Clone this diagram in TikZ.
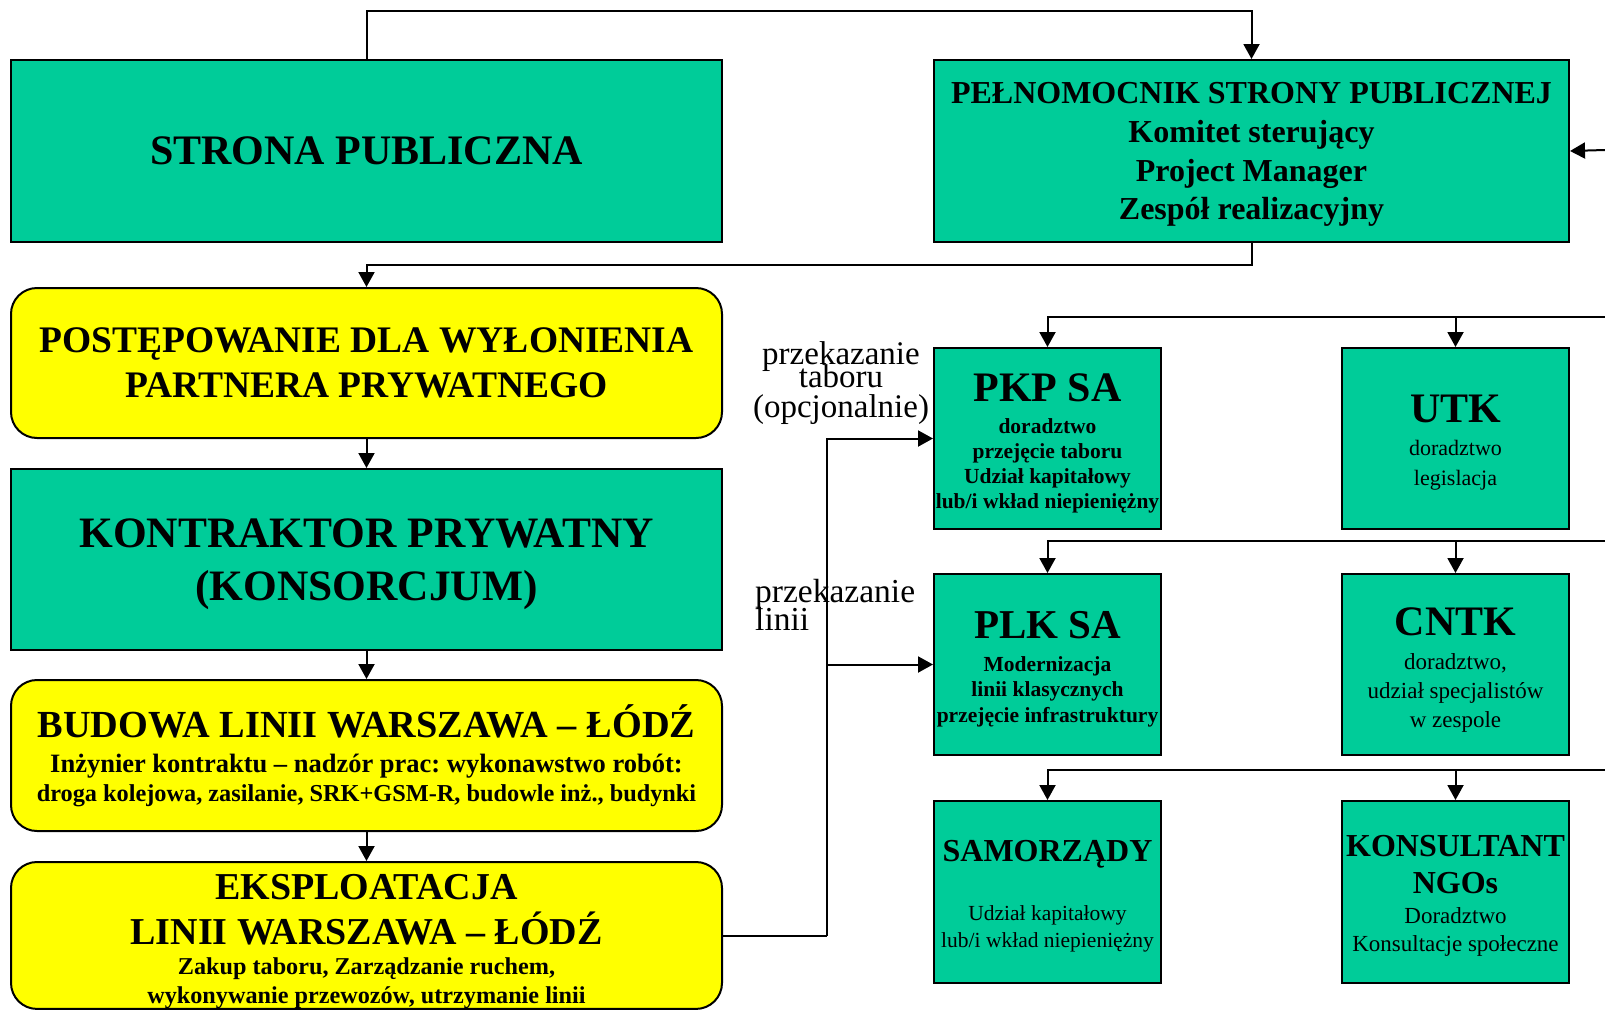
\documentclass[tikz,border=0pt]{standalone}
\usepackage{fontspec}
\setmainfont{Liberation Serif}
\usepackage{tikz}
\usetikzlibrary{arrows.meta,positioning}
\definecolor{zielen}{HTML}{00CC99}
\definecolor{zolc}{HTML}{FFFF00}
\newcommand{\fs}[2]{\fontsize{#1pt}{#2pt}\selectfont}
\newcommand{\gora}[1]{\rule{0pt}{#1pt}}
\lineskiplimit=-100pt
\frenchspacing

\begin{document}
\begin{tikzpicture}[
  x=1pt, y=-1pt,
  zbox/.style={draw, line width=2pt, fill=zielen, align=center, inner sep=0pt,
               anchor=north west, minimum width=711pt},
  ybox/.style={zbox, fill=zolc, rounded corners=26pt},
  mbox/.style={zbox, minimum width=227pt, minimum height=181pt},
  arr/.style={-{Triangle[length=15pt,width=16pt]}, line width=2pt},
  lin/.style={line width=2pt},
  etyk/.style={align=center, inner sep=0pt, font=\fs{33}{23.5}}
]
\path[use as bounding box, fill=white] (0,0) rectangle (1605,1009);

% lewa kolumna
\node[zbox, minimum height=182pt, font=\fs{42}{50}\bfseries] (strona) at (10,59) {STRONA PUBLICZNA};
\node[ybox, minimum height=150pt, font=\fs{37.5}{45}\bfseries] (postep) at (10,287)
  {POSTĘPOWANIE DLA WYŁONIENIA\\PARTNERA PRYWATNEGO};
\node[zbox, minimum height=181pt, font=\fs{43.4}{52.5}\bfseries] (kontr) at (10,468)
  {\gora{38.7}KONTRAKTOR PRYWATNY\\(KONSORCJUM)};
\node[ybox, minimum height=151pt, font=\fs{24.3}{29.5}\bfseries] (budowa) at (10,679)
  {{\fs{38.3}{29}BUDOWA LINII WARSZAWA – ŁÓDŹ}\\[5.5pt]
   {\fs{26.5}{29}Inżynier kontraktu – nadzór prac: wykonawstwo robót:}\\
   droga kolejowa, zasilanie, SRK+GSM-R, budowle inż., budynki};
\node[ybox, minimum height=146pt, font=\fs{24.2}{29}\bfseries] (eksp) at (10,861)
  {{\fs{38}{29}\gora{37.2}EKSPLOATACJA}\\[16pt]{\fs{38}{29}LINII WARSZAWA – ŁÓDŹ}\\[1.5pt]
   Zakup taboru, Zarządzanie ruchem,\\wykonywanie przewozów, utrzymanie linii};

% prawa strona
\node[zbox, minimum width=635pt, minimum height=182pt, font=\fs{32}{38.7}\bfseries] (pelnom) at (933,59)
  {\gora{28.4}PEŁNOMOCNIK STRONY PUBLICZNEJ\\Komitet sterujący\\Project Manager\\Zespół realizacyjny};
\node[mbox, font=\fs{21.5}{25}\bfseries] (pkp) at (933,347)
  {{\fs{42}{25}\gora{37.8}PKP SA}\\[7pt]doradztwo\\przejęcie  taboru\\Udział kapitałowy\\lub/i wkład niepieniężny};
\node[mbox, font=\fs{22}{30}] (utk) at (1341,347)
  {{\fs{42}{30}\bfseries\gora{35.8}UTK}\\[3pt]doradztwo\\legislacja};
\node[mbox, font=\fs{21.5}{25.5}\bfseries] (plk) at (933,573)
  {{\fs{41}{25}\gora{37.1}PLK SA}\\[7pt]Modernizacja\\linii klasycznych\\przejęcie infrastruktury};
\node[mbox, font=\fs{23}{28.8}] (cntk) at (1341,573)
  {{\fs{42}{28}\bfseries\gora{38.8}CNTK}\\[5pt]doradztwo,\\udział specjalistów\\w zespole};
\node[mbox, minimum height=182pt, font=\fs{21.5}{27.7}] (samo) at (933,800)
  {{\fs{32}{27}\bfseries\gora{30.2}SAMORZĄDY}\\[31pt]Udział kapitałowy\\lub/i wkład niepieniężny};
\node[mbox, minimum height=182pt, font=\fs{23}{28}] (kons) at (1341,800)
  {{\fs{32}{28}\bfseries\gora{29.2}KONSULTANT}\\[8.5pt]{\fs{32}{28}\bfseries NGOs}\\[2.5pt]Doradztwo\\Konsultacje społeczne};

% etykiety
\node[etyk] (lab1) at (841,383) {przekazanie\\taboru\\[6.2pt](opcjonalnie)};
\node[etyk, font=\fs{33.5}{28}, align=left, anchor=west] (lab2) at (755,605) {przekazanie\\linii};

% polaczenia
\draw[arr] (strona.north) -- ++(0,-48) -| (pelnom.north);
\draw[arr] (pelnom.south) -- ++(0,22) -| (postep.north);
\draw[arr] (postep) -- (kontr);
\draw[arr] (kontr) -- (budowa);
\draw[arr] (budowa) -- (eksp);

\coordinate (rozw) at (827,936);
\draw[lin] (rozw -| eksp.east) -- (rozw);
\draw[arr] (rozw) |- (pkp.west);
\draw[arr] (rozw) |- (plk.west);

\coordinate (wej1) at (1605,150);
\coordinate (wej2) at (1605,317);
\coordinate (wej3) at (1605,541);
\coordinate (wej4) at (1605,770);
\draw[arr] (wej1) -- (pelnom.east);
\draw[arr] (wej2) -| (pkp.north);
\draw[arr] (wej2 -| utk.north) -- (utk.north);
\draw[arr] (wej3) -| (plk.north);
\draw[arr] (wej3 -| cntk.north) -- (cntk.north);
\draw[arr] (wej4) -| (samo.north);
\draw[arr] (wej4 -| kons.north) -- (kons.north);
\end{tikzpicture}
\end{document}
